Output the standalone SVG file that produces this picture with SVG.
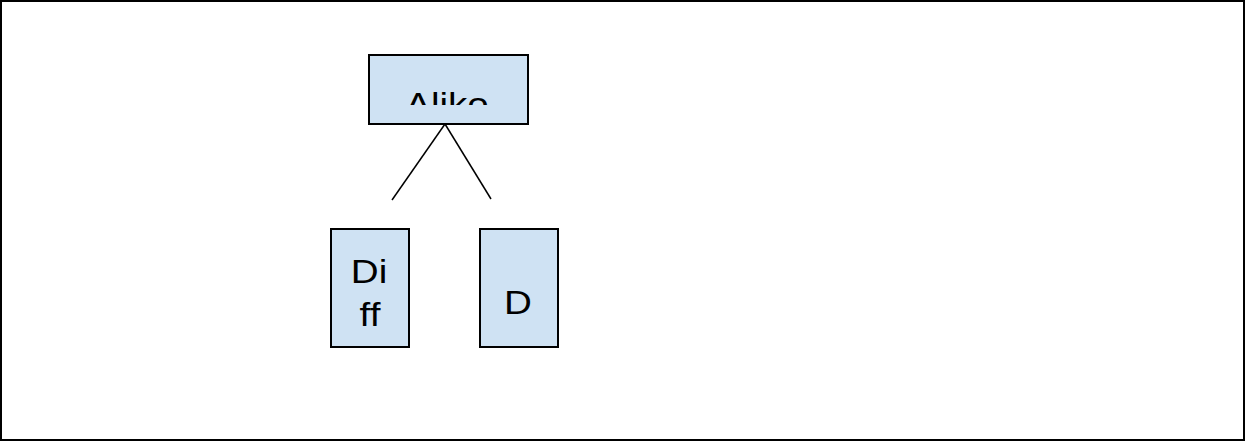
<svg xmlns="http://www.w3.org/2000/svg" width="1246" height="442" viewBox="0 0 1246 442">
<style>
.box{fill:#cfe2f3;stroke:#000;stroke-width:2}
.lbl{font-family:"Liberation Sans",Arial,sans-serif;font-size:33px;fill:#000;text-anchor:middle}
.conn{stroke:#000;stroke-width:1.5;fill:none}
</style>
<defs>
<clipPath id="clipA"><rect x="369" y="55" width="159" height="50"/></clipPath>
</defs>
<rect x="1" y="1" width="1243" height="439" fill="#fff" stroke="#000" stroke-width="2"/>
<g id="connectors">
<line class="conn" x1="445" y1="124" x2="392" y2="200"/>
<line class="conn" x1="445" y1="124" x2="491" y2="199"/>
</g>
<g id="node-aliko">
<rect class="box" x="369" y="55" width="159" height="69"/>
<g clip-path="url(#clipA)">
<text class="lbl" transform="translate(447,116) scale(1.17,1)">Aliko</text>
</g>
</g>
<g id="node-diff">
<rect class="box" x="331" y="229" width="78" height="118"/>
<text class="lbl" transform="translate(369,283) scale(1.17,1)">Di</text>
<text class="lbl" transform="translate(370,326) scale(1.17,1)">ff</text>
</g>
<g id="node-d">
<rect class="box" x="480" y="229" width="78" height="118"/>
<text class="lbl" transform="translate(518,314) scale(1.17,1)">D</text>
</g>
</svg>
